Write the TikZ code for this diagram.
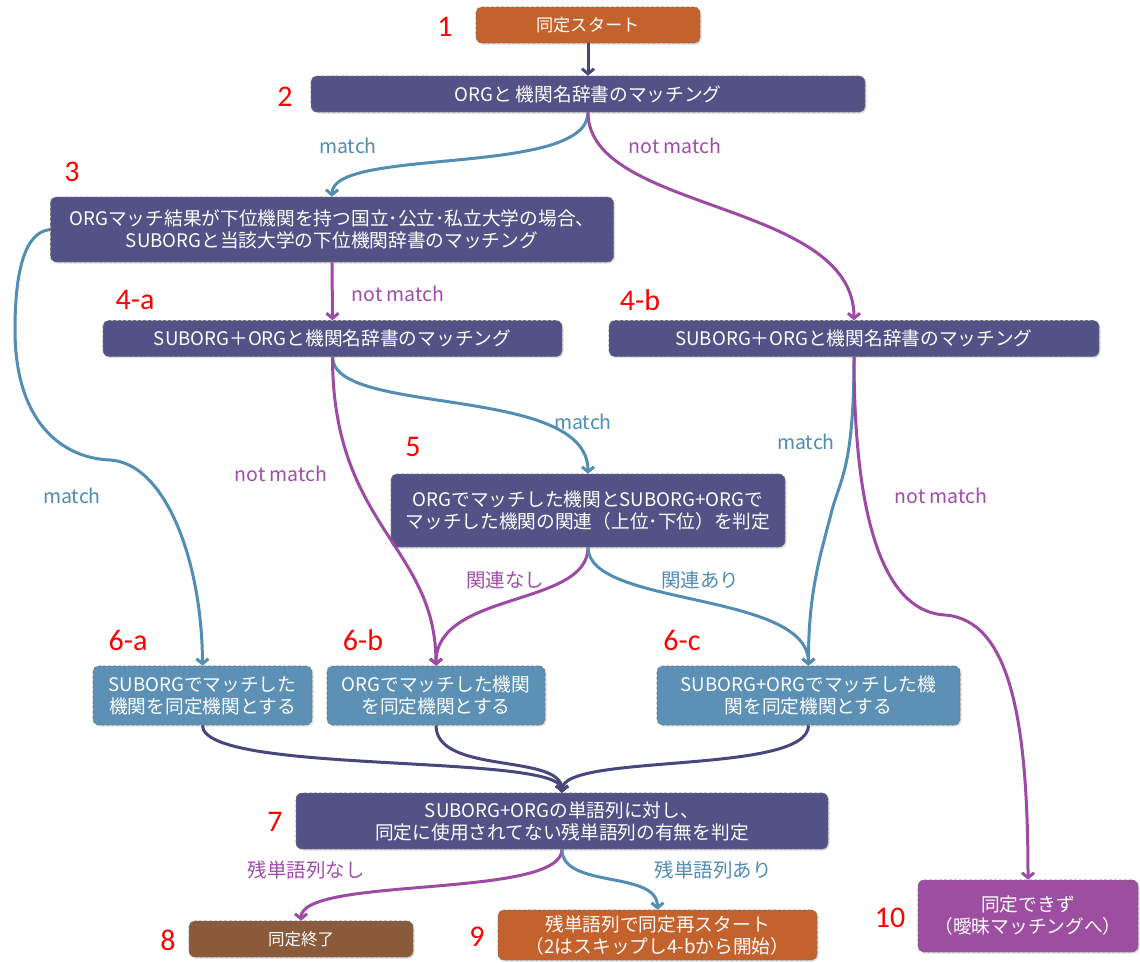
\documentclass[tikz,border=0pt]{standalone}
\usepackage{fontspec}
\setmainfont{Noto Sans CJK JP}
\newfontfamily\numfont{Carlito}
\usetikzlibrary{arrows.meta,shadows}
\definecolor{navyBox}{RGB}{83,82,135}
\definecolor{orangeBox}{RGB}{196,98,45}
\definecolor{blueBox}{RGB}{92,144,181}
\definecolor{brownBox}{RGB}{138,90,58}
\definecolor{purpleBox}{RGB}{158,78,160}
\definecolor{blueLine}{RGB}{82,142,180}
\definecolor{purpleLine}{RGB}{156,74,164}
\definecolor{navyLine}{RGB}{72,70,125}
\definecolor{labBlue}{RGB}{78,140,180}
\definecolor{labPurple}{RGB}{160,76,170}
\begin{document}
\begin{tikzpicture}[x=1pt,y=-1pt,
  box/.style={rounded corners=6pt, draw=black!55, densely dashed, line width=0.6pt,
    text=white, align=center, inner sep=0pt, font=\fontsize{18.7}{22}\selectfont,
    drop shadow={opacity=0.25, shadow xshift=1.5pt, shadow yshift=-1.5pt}},
  navybox/.style={box, fill=navyBox},
  orangebox/.style={box, fill=orangeBox},
  bluebox/.style={box, fill=blueBox},
  brownbox/.style={box, fill=brownBox},
  purplebox/.style={box, fill=purpleBox},
  smalltext/.style={font=\fontsize{16.5}{20}\selectfont},
  num/.style={text=red, font=\numfont\fontsize{30}{32}\selectfont, inner sep=0pt},
  lab/.style={font=\fontsize{19.5}{22}\selectfont, inner sep=0pt},
  conn/.style={line width=3pt, -{Straight Barb[length=5pt,width=12pt]}},
  cblue/.style={conn, draw=blueLine},
  cpurple/.style={conn, draw=purpleLine},
  cnavy/.style={conn, draw=navyLine}
]
\useasboundingbox[fill=white] (0,0) rectangle (1140,962);

% boxes
\node[orangebox, font=\fontsize{17.2}{20}\selectfont, minimum width=224pt, minimum height=36pt] (n1) at (588,25) {同定スタート};
\node[navybox, minimum width=554pt, minimum height=36pt] (n2) at (588,94) {ORGと 機関名辞書のマッチング};
\node[navybox, minimum width=563pt, minimum height=65pt] (n3) at (332,229.5) {ORGマッチ結果が下位機関を持つ国立･公立･私立大学の場合、\\SUBORGと当該大学の下位機関辞書のマッチング};
\node[navybox, minimum width=459pt, minimum height=36pt] (n4a) at (332.5,338.5) {SUBORG＋ORGと機関名辞書のマッチング};
\node[navybox, minimum width=490pt, minimum height=36pt] (n4b) at (854,338.5) {SUBORG＋ORGと機関名辞書のマッチング};
\node[navybox, minimum width=394pt, minimum height=73pt] (n5) at (588,510.5) {ORGでマッチした機関とSUBORG+ORGで\\マッチした機関の関連（上位･下位）を判定};
\node[bluebox, minimum width=219pt, minimum height=59pt] (n6a) at (202.5,695.5) {SUBORGでマッチした\\機関を同定機関とする};
\node[bluebox, minimum width=218pt, minimum height=59pt] (n6b) at (436,695.5) {ORGでマッチした機関\\を同定機関とする};
\node[bluebox, minimum width=303pt, minimum height=59pt] (n6c) at (808.5,695.5) {SUBORG+ORGでマッチした機\\関を同定機関とする};
\node[navybox, minimum width=532pt, minimum height=56pt] (n7) at (562,821) {SUBORG+ORGの単語列に対し、\\同定に使用されてない残単語列の有無を判定};
\node[brownbox, smalltext, minimum width=224pt, minimum height=36pt] (n8) at (301,939) {同定終了};
\node[orangebox, minimum width=319pt, minimum height=50pt] (n9) at (657.5,935) {残単語列で同定再スタート\\（2はスキップし4-bから開始）};
\node[purplebox, minimum width=220pt, minimum height=72pt] (n10) at (1028,916) {同定できず\\（曖昧マッチングへ）};

% step numbers
\node[num] (k1) at (445,27) {1};
\node[num] (k2) at (285,97) {2};
\node[num] (k3) at (72,172) {3};
\node[num] (k4a) at (135,300) {4-a};
\node[num] (k4b) at (640,300) {4-b};
\node[num] (k5) at (413,447) {5};
\node[num] (k6a) at (128,640) {6-a};
\node[num] (k6b) at (363,640) {6-b};
\node[num] (k6c) at (682,640) {6-c};
\node[num] (k7) at (275,822) {7};
\node[num] (k8) at (168,940) {8};
\node[num] (k9) at (477,937) {9};
\node[num] (k10) at (890,918) {10};

% connectors
\draw[cnavy] (n1.south) -- (n2.north);
\draw[cblue] (n2.south) .. controls +(0,65) and +(0,-50) .. (n3.north);
\draw[cpurple] (n2.south) .. controls +(0,100) and +(0,-120) .. (n4b.north);
\draw[cpurple] (n3.south) -- (n4a.north);
\draw[cblue] (n3.west) .. controls (25,232) and (15,270) .. (15,330)
  .. controls (15,420) and (60,458) .. (110,460)
  .. controls (165,463) and (202,560) .. (n6a.north);
\draw[cblue] (n4a.south) .. controls +(0,60) and +(0,-90) .. (n5.north);
\draw[cpurple] (n4a.south) .. controls +(0,170) and +(0,-120) .. (n6b.north);
\draw[cblue] (n4b.south) .. controls +(0,110) and (840,480) .. (832,510)
  .. controls (822,550) and (808,590) .. (n6c.north);
\draw[cpurple] (n4b.south) .. controls +(0,180) and (890,612) .. (945,615)
  .. controls (1010,620) and (1028,720) .. (n10.north);
\draw[cpurple] (n5.south) .. controls +(0,60) and +(0,-75) .. (n6b.north);
\draw[cblue] (n5.south) .. controls +(0,60) and +(0,-75) .. (n6c.north);
\draw[cnavy] (n6a.south) .. controls +(0,50) and +(0,-40) .. (n7.north);
\draw[cnavy] (n6b.south) .. controls +(0,50) and +(0,-40) .. (n7.north);
\draw[cnavy] (n6c.south) .. controls +(0,50) and +(0,-40) .. (n7.north);
\draw[cpurple] (n7.south) .. controls +(0,50) and +(0,-45) .. (n8.north);
\draw[cblue] (n7.south) .. controls +(0,40) and +(0,-40) .. (n9.north);

% edge labels
\node[lab, text=labBlue] (l1) at (348,146) {match};
\node[lab, text=labPurple] (l2) at (675,146) {not match};
\node[lab, text=labPurple] (l3) at (398,294) {not match};
\node[lab, text=labBlue] (l4) at (583,422) {match};
\node[lab, text=labPurple] (l5) at (281,474) {not match};
\node[lab, text=labBlue] (l6) at (806,442) {match};
\node[lab, text=labPurple] (l7) at (941,496) {not match};
\node[lab, text=labBlue] (l8) at (72,496) {match};
\node[lab, text=labPurple] (l9) at (505,580) {関連なし};
\node[lab, text=labBlue] (l10) at (700,580) {関連あり};
\node[lab, text=labPurple] (l11) at (306,870) {残単語列なし};
\node[lab, text=labBlue] (l12) at (713,870) {残単語列あり};
\end{tikzpicture}
\end{document}
